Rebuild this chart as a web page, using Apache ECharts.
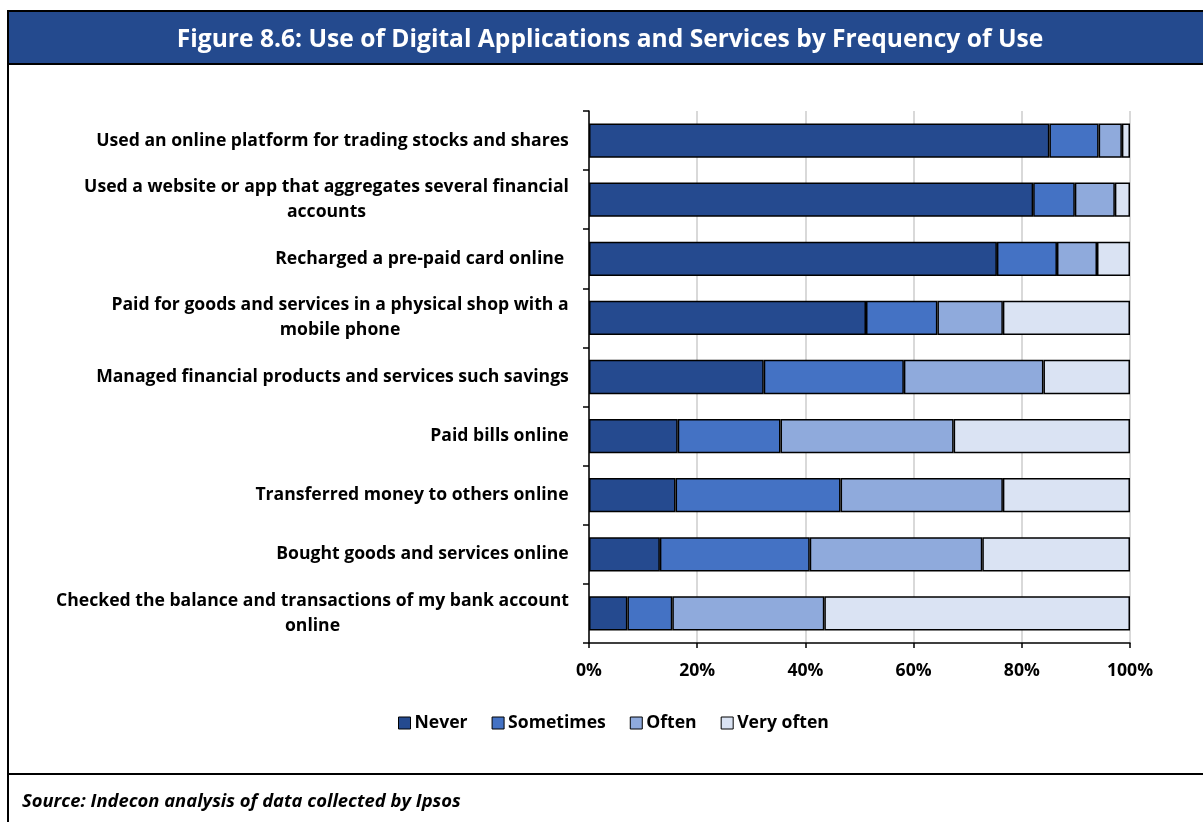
<!DOCTYPE html>
<html>
<head>
<meta charset="utf-8">
<title>Figure 8.6</title>
<script src="https://cdn.jsdelivr.net/npm/echarts@6/dist/echarts.min.js"></script>
<style>
  html, body { margin: 0; padding: 0; background: #ffffff; }
  #chart { width: 1203px; height: 822px; }
</style>
</head>
<body>
<div id="chart"></div>
<script>
// Survey items, top to bottom
const categories = [
  'Used an online platform for trading stocks and shares',
  'Used a website or app that aggregates several financial\naccounts',
  'Recharged a pre-paid card online ',
  'Paid for goods and services in a physical shop with a\nmobile phone',
  'Managed financial products and services such savings',
  'Paid bills online',
  'Transferred money to others online',
  'Bought goods and services online',
  'Checked the balance and transactions of my bank account\nonline'
];

// Share of respondents (%) by frequency of use
const never     = [85.1, 82.1, 75.4, 51.2, 32.3, 16.4, 16.0, 13.1, 7.1];
const sometimes = [9.1, 7.7, 11.1, 13.2, 25.9, 19.0, 30.5, 27.7, 8.3];
const often     = [4.3, 7.4, 7.4, 12.1, 25.8, 32.0, 30.0, 31.9, 28.1];
const veryOften = [1.5, 2.8, 6.1, 23.5, 16.0, 32.6, 23.5, 27.3, 56.5];

const seriesNames = ['Never', 'Sometimes', 'Often', 'Very often'];
const seriesColors = ['#254a8f', '#4472c4', '#8faadc', '#dae3f3'];
const xTicks = [0, 20, 40, 60, 80, 100];

const FONT = 'Open Sans';
const LABEL_SIZE = 17.6;
const labelFont = 'bold ' + LABEL_SIZE + 'px "' + FONT + '"';

// Multi-line category labels are centred within their own block,
// so each label gets a rich style as wide as its longest line.
const measureCtx = document.createElement('canvas').getContext('2d');
measureCtx.font = labelFont;
const labelRich = {};
categories.forEach((c, i) => {
  const w = Math.max(...c.split('\n').map(s => measureCtx.measureText(s).width));
  labelRich['c' + i] = {
    width: Math.ceil(w),
    align: 'center',
    fontFamily: FONT,
    fontWeight: 'bold',
    fontSize: LABEL_SIZE,
    lineHeight: 25,
    color: '#000'
  };
});

const chart = echarts.init(document.getElementById('chart'), null, { renderer: 'canvas' });

const data = [never, sometimes, often, veryOften];

chart.setOption({
  animation: false,
  backgroundColor: '#ffffff',
  title: {
    text: 'Figure 8.6: Use of Digital Applications and Services by Frequency of Use',
    left: 605,
    top: 22,
    textAlign: 'center',
    textStyle: { color: '#ffffff', fontFamily: FONT, fontWeight: 'bold', fontSize: 24.6 }
  },
  graphic: [
    // heading band
    { type: 'rect', z: -1, shape: { x: 8, y: 11, width: 1200, height: 53 },
      style: { fill: '#244a8e', stroke: '#000', lineWidth: 2 } },
    // frame sides and source divider
    { type: 'line', shape: { x1: 8, y1: 64, x2: 8, y2: 822 }, style: { stroke: '#000', lineWidth: 2 } },
    { type: 'line', shape: { x1: 8, y1: 774, x2: 1203, y2: 774 }, style: { stroke: '#000', lineWidth: 2 } },
    { type: 'text', left: 22, top: 793,
      style: { text: 'Source: Indecon analysis of data collected by Ipsos', fill: '#000',
               font: 'italic bold 18.4px "' + FONT + '"' } }
  ],
  legend: {
    data: seriesNames,
    left: 393,
    top: 709,
    icon: 'rect',
    itemWidth: 12,
    itemHeight: 12,
    itemGap: 24,
    itemStyle: { borderColor: '#000', borderWidth: 1 },
    textStyle: { color: '#000', fontFamily: FONT, fontWeight: 'bold', fontSize: 17.6, padding: [0, 0, 0, -1] }
  },
  grid: { left: 589, right: 73, top: 111, bottom: 179, containLabel: false },
  xAxis: {
    type: 'value',
    min: xTicks[0],
    max: xTicks[xTicks.length - 1],
    interval: xTicks[1] - xTicks[0],
    axisLine: { show: true, lineStyle: { color: '#000', width: 1.5 } },
    axisTick: { show: true, length: 5, lineStyle: { color: '#000', width: 1.5 } },
    splitLine: { show: true, lineStyle: { color: '#d9d9d9', width: 2 } },
    axisLabel: {
      formatter: '{value}%',
      margin: 19,
      color: '#000',
      fontFamily: FONT,
      fontWeight: 'bold',
      fontSize: 17.6
    }
  },
  yAxis: {
    type: 'category',
    inverse: true,
    data: categories,
    axisLine: { show: true, lineStyle: { color: '#000', width: 1.5 } },
    axisTick: { show: true, length: 6, lineStyle: { color: '#000', width: 1.5 } },
    axisLabel: {
      margin: 20,
      align: 'right',
      interval: 0,
      formatter: (v, i) => '{c' + i + '|' + v + '}',
      rich: labelRich
    }
  },
  series: seriesNames.map((name, k) => ({
    name: name,
    type: 'bar',
    stack: 'total',
    barCategoryGap: '42%',
    data: data[k],
    itemStyle: { color: seriesColors[k], borderColor: '#000', borderWidth: 1.5 }
  }))
});
</script>
</body>
</html>
